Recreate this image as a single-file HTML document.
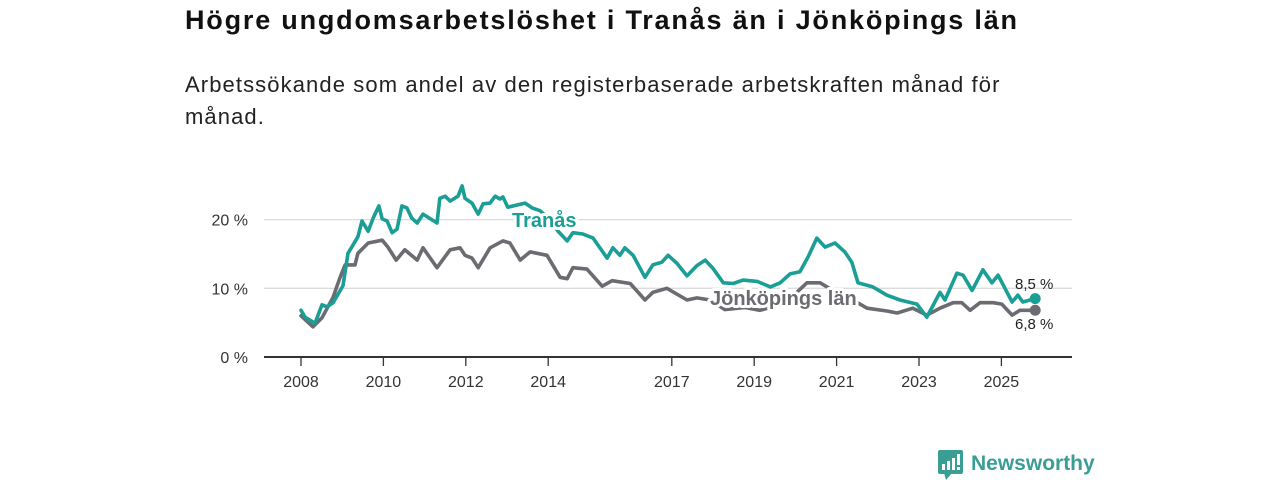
<!DOCTYPE html>
<html><head><meta charset="utf-8"><style>
body{margin:0;width:1280px;height:480px;background:#fff;font-family:"Liberation Sans",sans-serif;overflow:hidden;position:relative}
#title{position:absolute;left:185px;top:5px;font-size:27px;letter-spacing:1.8px;font-weight:bold;color:#111;margin:0;white-space:nowrap}
#sub{position:absolute;left:185px;top:69px;width:850px;font-size:22px;letter-spacing:1.1px;line-height:32px;color:#222;margin:0}
svg{position:absolute;left:0;top:0}
</style></head><body>
<h1 id="title">Högre ungdomsarbetslöshet i Tranås än i Jönköpings län</h1>
<p id="sub">Arbetssökande som andel av den registerbaserade arbetskraften månad för månad.</p>
<svg id="chart" width="1280" height="480"></svg>
<script>
const tickYears=[2008,2010,2012,2014,2017,2019,2021,2023,2025];
const yTicks=[0,10,20];
const tranasDates=[2008.0,2008.1,2008.34,2008.51,2008.63,2008.78,2009.02,2009.14,2009.38,2009.48,2009.63,2009.75,2009.89,2009.97,2010.09,2010.21,2010.33,2010.45,2010.57,2010.69,2010.82,2010.96,2011.3,2011.37,2011.5,2011.62,2011.81,2011.91,2011.98,2012.15,2012.3,2012.42,2012.59,2012.71,2012.83,2012.9,2013.02,2013.44,2013.61,2013.8,2014.04,2014.24,2014.46,2014.6,2014.84,2015.09,2015.43,2015.57,2015.74,2015.86,2016.06,2016.35,2016.54,2016.76,2016.91,2017.13,2017.37,2017.61,2017.81,2018.0,2018.25,2018.49,2018.73,2019.07,2019.39,2019.63,2019.87,2020.11,2020.31,2020.52,2020.72,2020.96,2021.2,2021.37,2021.52,2021.88,2022.22,2022.54,2022.95,2023.19,2023.51,2023.63,2023.92,2024.07,2024.29,2024.55,2024.77,2024.92,2025.26,2025.4,2025.52,2025.82];
const tranasValues=[6.8,5.8,4.9,7.6,7.3,7.9,10.4,15.1,17.5,19.8,18.3,20.2,22,20.1,19.8,18.1,18.6,22,21.7,20.2,19.5,20.8,19.5,23.1,23.4,22.7,23.4,24.9,23.1,22.4,20.8,22.3,22.4,23.4,23,23.3,21.8,22.4,21.7,21.3,20,18.3,16.9,18.1,17.9,17.3,14.4,15.9,14.8,15.9,14.8,11.6,13.4,13.8,14.8,13.6,11.8,13.3,14.1,12.9,10.8,10.7,11.2,11,10.2,10.8,12.1,12.4,14.6,17.3,16,16.6,15.3,13.8,10.8,10.2,9,8.3,7.7,5.8,9.4,8.3,12.2,11.9,9.7,12.7,10.8,11.9,8,9,8,8.5];
const jkpgDates=[2008.0,2008.29,2008.51,2008.78,2008.95,2009.07,2009.31,2009.38,2009.63,2009.97,2010.11,2010.31,2010.52,2010.82,2010.96,2011.3,2011.62,2011.86,2011.98,2012.15,2012.3,2012.59,2012.9,2013.07,2013.32,2013.56,2013.97,2014.29,2014.46,2014.6,2014.94,2015.31,2015.55,2015.99,2016.35,2016.54,2016.88,2017.37,2017.61,2017.93,2018.29,2018.78,2019.14,2019.75,2020.28,2020.6,2020.96,2021.33,2021.74,2022.22,2022.47,2022.85,2023.19,2023.51,2023.83,2024.04,2024.24,2024.48,2024.8,2025.01,2025.26,2025.45,2025.82];
const jkpgValues=[6.0,4.4,5.7,8.7,11.6,13.4,13.4,15.1,16.6,17,16,14.1,15.6,14.1,15.9,13,15.6,15.9,14.8,14.4,13,15.9,16.9,16.6,14.1,15.3,14.8,11.6,11.4,13,12.8,10.3,11.1,10.7,8.3,9.4,10,8.3,8.6,8.3,6.9,7.2,6.8,7.8,10.8,10.8,9.5,8.5,7.1,6.7,6.4,7.1,6.1,7.1,7.9,7.9,6.8,7.9,7.9,7.7,6.1,6.8,6.8];

const NS="http://www.w3.org/2000/svg";
const svg=document.getElementById('chart');
const x=y=>301+(y-2008)*41.2;
const yS=v=>357-v*6.87;
function mk(tag,attrs,parent){const e=document.createElementNS(NS,tag);for(const k in attrs)e.setAttribute(k,attrs[k]);(parent||svg).appendChild(e);return e;}

yTicks.forEach(t=>{
  if(t>0){const g=mk('line',{x1:264,x2:1072,y1:yS(t),y2:yS(t),stroke:'#dcdcdc','stroke-width':1.3});
  
  }
  const l=mk('text',{x:248,y:yS(t)+6,'text-anchor':'end','font-size':16,fill:'#333'});
  l.textContent=t+' %';
  
  
});
const ax=mk('line',{x1:264,x2:1072,y1:357,y2:357,stroke:'#333','stroke-width':2});


tickYears.forEach(t=>{
  const tk=mk('line',{x1:x(t),x2:x(t),y1:357,y2:366,stroke:'#333','stroke-width':1.3});
  
  
  const l=mk('text',{x:x(t),y:387,'text-anchor':'middle','font-size':16,fill:'#333'});
  l.textContent=t;
  
  
});
function path(dates,vals,color,name){
  const d=dates.map((t,i)=>(i?'L':'M')+x(t).toFixed(1)+','+yS(vals[i]).toFixed(1)).join('');
  const p=mk('path',{d:d,fill:'none',stroke:color,'stroke-width':3.6,'stroke-linejoin':'round','stroke-linecap':'round'});
  
  
  const n=dates.length-1;
  const c=mk('circle',{cx:x(dates[n]),cy:yS(vals[n]),r:5.5,fill:color});
  
  
}
path(jkpgDates,jkpgValues,'#6c6b71','jonkoping-line');
path(tranasDates,tranasValues,'#1a9e95','tranas-line');

const lt=mk('text',{x:512,y:227,'font-size':20,'font-weight':'bold',fill:'#1a9e95',stroke:'#fff','stroke-width':6,'paint-order':'stroke','stroke-linejoin':'round'});
lt.textContent='Tranås';


const lj=mk('text',{x:710,y:305,'font-size':20,'font-weight':'bold',fill:'#6c6b71',stroke:'#fff','stroke-width':6,'paint-order':'stroke','stroke-linejoin':'round'});
lj.textContent='Jönköpings län';



const e1=mk('text',{x:1015,y:289,'font-size':15,fill:'#222'});
e1.textContent=String(tranasValues[tranasValues.length-1]).replace('.',',')+' %';


const e2=mk('text',{x:1015,y:329,'font-size':15,fill:'#222'});
e2.textContent=String(jkpgValues[jkpgValues.length-1]).replace('.',',')+' %';



const logo=mk('g',{});


mk('rect',{x:938,y:450,width:25,height:24,rx:2,fill:'#3a9e95'},logo);
mk('polygon',{points:'944,473 952,473 946,480',fill:'#3a9e95'},logo);
mk('rect',{x:942,y:464,width:3,height:6,fill:'#fff'},logo);
mk('rect',{x:947,y:461,width:3,height:9,fill:'#fff'},logo);
mk('rect',{x:952,y:458,width:3,height:12,fill:'#fff'},logo);
mk('rect',{x:957,y:454,width:3,height:11,fill:'#fff'},logo);
mk('rect',{x:957,y:467,width:3,height:3,fill:'#fff'},logo);
const lg=mk('text',{x:971,y:470,'font-size':21,'font-weight':'bold',fill:'#3a9e95'},logo);
lg.textContent='Newsworthy';
</script>
</body></html>
